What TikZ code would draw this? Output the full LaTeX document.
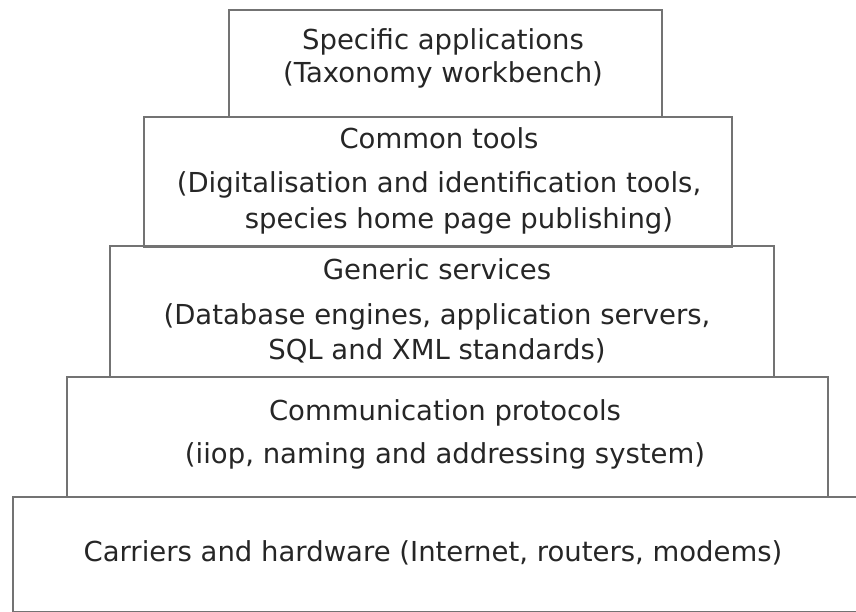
\documentclass[tikz,border=0pt]{standalone}
\usepackage{fontspec}
\setmainfont{DejaVu Sans}
\usetikzlibrary{positioning}

\tikzset{
  layer/.style={draw=black!55, line width=1.6pt, inner sep=0pt, anchor=north west},
  layertext/.style={align=center, text=black!85, font=\fontsize{27.5}{33}\selectfont}
}

\begin{document}
\begin{tikzpicture}[x=1pt, y=-1pt]
  \useasboundingbox (0,0) rectangle (856,612);
  % the five layers, top to bottom
  \node[layer, minimum width=433pt, minimum height=107pt] (apps) at (228,9) {};
  \node[layer, minimum width=588pt, minimum height=130pt] (tools) at (143,116) {};
  \node[layer, minimum width=664pt, minimum height=131pt] (services) at (109,245) {};
  \node[layer, minimum width=761pt, minimum height=120pt] (protocols) at (66,376) {};
  \node[layer, minimum width=870pt, minimum height=115pt] (carriers) at (12,496) {};

  % their texts
  \node[layertext] (appsT) at (443,58) {Specific applications\\(Taxonomy workbench)};
  \node[layertext] (toolsT) at (439,181) {Common tools\\[11pt](Digitalisation and identification tools,\\[3pt]\hspace*{40pt}species home page publishing)};
  \node[layertext] (servicesT) at (437,311) {Generic services\\[12pt](Database engines, application servers,\\[2pt]SQL and XML standards)};
  \node[layertext] (protocolsT) at (445,434) {Communication protocols\\[10pt](iiop, naming and addressing system)};
  \node[layertext] (carriersT) at (433,553) {Carriers and hardware (Internet, routers, modems)};
\end{tikzpicture}
\end{document}
